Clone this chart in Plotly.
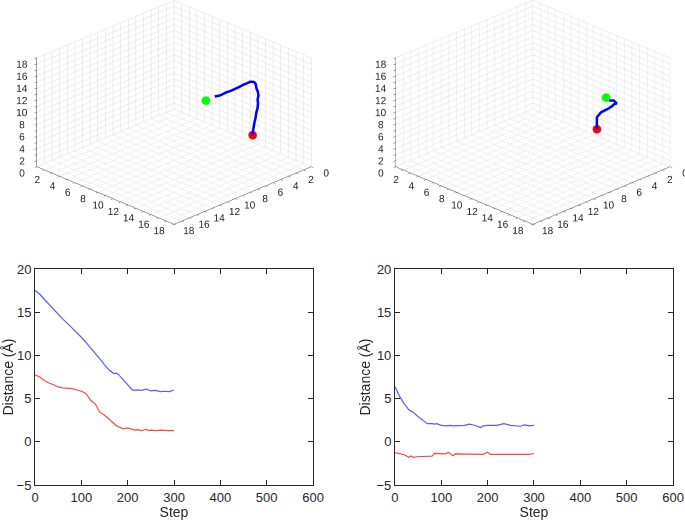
import plotly.graph_objects as go

# ---------------- data ----------------
# 3D trajectories (x, y, z in axis units)
traj1_x = [4.33, 3.95, 3.61, 3.30, 2.96, 2.70, 2.44, 2.20, 1.98, 1.75, 1.65, 1.62, 1.59, 1.50, 1.46, 1.52, 1.49, 1.52, 1.60, 1.65, 1.72, 1.80, 1.85]
traj1_y = [9.67, 10.05, 10.39, 10.70, 11.04, 11.30, 11.56, 11.80, 12.02, 12.25, 12.35, 12.38, 12.41, 12.50, 12.54, 12.48, 12.51, 12.48, 12.40, 12.35, 12.28, 12.20, 12.15]
traj1_z = [9.49, 9.70, 10.15, 10.40, 10.80, 11.10, 11.46, 11.70, 11.95, 11.90, 11.62, 11.20, 10.80, 10.30, 9.66, 9.00, 8.35, 7.60, 6.87, 6.00, 5.24, 4.10, 3.11]
start1 = [4.91, 9.09, 8.84]
end1 = [1.85, 12.15, 3.11]

traj2_x = [2.20, 1.95, 1.70, 1.50, 1.70, 1.82, 2.14, 2.53, 2.80, 2.80]
traj2_y = [11.80, 12.05, 12.30, 12.50, 12.30, 12.18, 11.86, 11.47, 11.20, 11.20]
traj2_z = [9.33, 8.84, 8.84, 8.35, 8.18, 7.86, 7.36, 6.87, 6.06, 4.10]
start2 = [2.20, 11.80, 9.33]
end2 = [2.80, 11.20, 4.10]

# distance vs step, left panel
steps_a = [0, 10, 20, 30, 40, 50, 60, 70, 80, 90, 100, 110, 120, 130, 140, 150, 160, 170, 175, 180, 190, 200, 210, 215, 220, 230, 240, 245, 250, 260, 270, 280, 290, 300]
blue_a = [17.5, 17.1, 16.5, 15.9, 15.3, 14.7, 14.2, 13.7, 13.2, 12.7, 12.1, 11.5, 10.9, 10.3, 9.6, 8.9, 8.3, 7.9, 7.95, 7.8, 7.2, 6.6, 6.0, 5.95, 6.0, 5.95, 6.1, 6.0, 5.9, 5.95, 5.8, 5.85, 5.8, 6.0]
red_a = [7.75, 7.5, 7.1, 6.8, 6.6, 6.35, 6.25, 6.2, 6.15, 6.0, 5.85, 5.6, 4.8, 4.4, 3.4, 3.1, 2.6, 2.1, 1.9, 1.75, 1.5, 1.6, 1.45, 1.35, 1.4, 1.3, 1.45, 1.3, 1.35, 1.3, 1.35, 1.3, 1.3, 1.3]

# distance vs step, right panel
steps_b = [0, 10, 20, 30, 35, 40, 50, 60, 70, 80, 85, 90, 100, 110, 115, 120, 125, 130, 140, 150, 160, 170, 185, 190, 200, 205, 210, 220, 235, 250, 270, 280, 290, 300]
blue_b = [6.4, 5.25, 4.4, 3.7, 3.55, 3.4, 2.9, 2.55, 2.1, 2.1, 2.05, 2.1, 1.9, 1.85, 1.9, 1.9, 1.85, 1.85, 1.9, 1.9, 2.05, 1.95, 1.65, 1.85, 1.9, 1.9, 1.85, 1.9, 2.1, 1.9, 1.8, 1.95, 1.85, 1.9]
red_b = [-1.25, -1.4, -1.5, -1.8, -1.65, -1.8, -1.7, -1.7, -1.7, -1.65, -1.35, -1.35, -1.4, -1.4, -1.2, -1.4, -1.6, -1.4, -1.4, -1.45, -1.45, -1.45, -1.45, -1.45, -1.2, -1.45, -1.45, -1.45, -1.45, -1.45, -1.45, -1.4, -1.45, -1.35]

tick_vals_3d = list(range(0, 19))
tick_text_3d = [str(v) if v % 2 == 0 else "" for v in tick_vals_3d]

FONT = "Helvetica, Arial, Liberation Sans, sans-serif"
TXT = "#262626"

fig = go.Figure()

def add3d(scene, tx, ty, tz, s, e):
    fig.add_trace(go.Scatter3d(x=tx, y=ty, z=tz, mode="lines",
                               line=dict(color="rgb(0,0,255)", width=5),
                               scene=scene, showlegend=False, hoverinfo="skip"))
    fig.add_trace(go.Scatter3d(x=[s[0]], y=[s[1]], z=[s[2]], mode="markers",
                               marker=dict(color="rgb(0,255,0)", size=5),
                               scene=scene, showlegend=False, hoverinfo="skip"))
    fig.add_trace(go.Scatter3d(x=[e[0]], y=[e[1]], z=[e[2]], mode="markers",
                               marker=dict(color="rgb(255,0,0)", size=5),
                               scene=scene, showlegend=False, hoverinfo="skip"))

add3d("scene", traj1_x, traj1_y, traj1_z, start1, end1)
add3d("scene2", traj2_x, traj2_y, traj2_z, start2, end2)

for xa, ya, st, bl, rd in [("x", "y", steps_a, blue_a, red_a), ("x2", "y2", steps_b, blue_b, red_b)]:
    fig.add_trace(go.Scatter(x=st, y=bl, mode="lines", line=dict(color="rgb(90,90,255)", width=1.2),
                             xaxis=xa, yaxis=ya, showlegend=False, hoverinfo="skip"))
    fig.add_trace(go.Scatter(x=st, y=rd, mode="lines", line=dict(color="rgb(255,70,70)", width=1.2),
                             xaxis=xa, yaxis=ya, showlegend=False, hoverinfo="skip"))

def ax3d():
    return dict(range=[0, 18], tickvals=tick_vals_3d, ticktext=tick_text_3d,
                showgrid=True, gridcolor="#dcdcdc", gridwidth=1,
                showline=True, linecolor="#404040", linewidth=1,
                ticks="outside", ticklen=3, tickcolor="#404040", tickangle=0,
                showbackground=True, backgroundcolor="white",
                zeroline=False, showspikes=False, title=dict(text=""),
                tickfont=dict(size=11, color=TXT, family=FONT))

DZ = -0.15
cam1 = dict(eye=dict(x=1.30, y=1.30, z=0.85 + DZ), center=dict(x=0, y=0, z=DZ),
            up=dict(x=0, y=0, z=1), projection=dict(type="orthographic"))
DXY = 0.067
cam2 = dict(eye=dict(x=1.30 + DXY, y=1.30 - DXY, z=0.85 + DZ), center=dict(x=DXY, y=-DXY, z=DZ),
            up=dict(x=0, y=0, z=1), projection=dict(type="orthographic"))

def scene(domain_x, cam):
    return dict(domain=dict(x=domain_x, y=[0.5, 1.0]),
                xaxis=ax3d(), yaxis=ax3d(), zaxis=ax3d(),
                aspectmode="manual", aspectratio=dict(x=1.493, y=1.493, z=0.922),
                camera=cam, bgcolor="white")

def ax2d(rng, dtick, title, domain, anchor):
    return dict(range=rng, dtick=dtick, domain=domain, anchor=anchor, automargin=False,
                showgrid=False, zeroline=False, showline=True, mirror="ticks",
                linecolor="#262626", linewidth=1, ticks="inside", ticklen=5,
                tickcolor="#262626", tickfont=dict(size=13, color=TXT, family=FONT),
                title=dict(text=title, font=dict(size=14, color=TXT, family=FONT), standoff=2))

fig.update_layout(
    width=685, height=520, margin=dict(l=0, r=0, t=0, b=0),
    paper_bgcolor="white", plot_bgcolor="white",
    font=dict(family=FONT, color=TXT),
    scene=scene([0.0, 0.508], cam1),
    scene2=scene([0.52, 1.0], cam2),
    xaxis=ax2d([0, 600], 100, "Step", [0.0511, 0.457], "y"),
    yaxis=ax2d([-5, 20], 5, "Distance (Å)", [0.0673, 0.4827], "x"),
    xaxis2=ax2d([0, 600], 100, "Step", [0.5766, 0.9825], "y2"),
    yaxis2=ax2d([-5, 20], 5, "Distance (Å)", [0.0673, 0.4827], "x2"),
)

fig.write_html("out.html", config=dict(displayModeBar=False),
               post_script="document.body.style.margin='0';document.body.style.overflow='hidden';")
